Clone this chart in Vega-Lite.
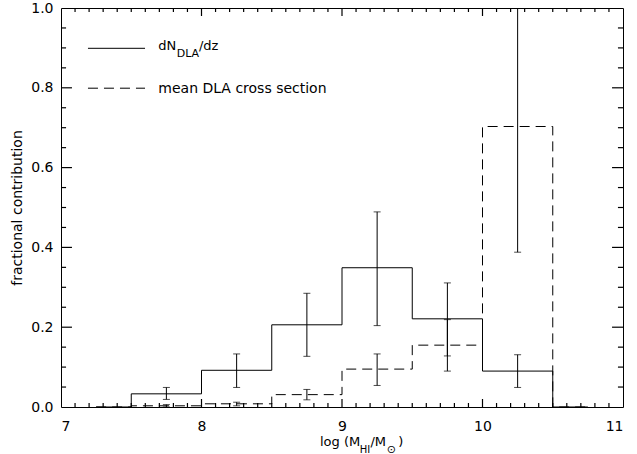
{
  "$schema": "https://vega.github.io/schema/vega-lite/v6.json",
  "width": 562,
  "height": 399,
  "autosize": {"type": "none"},
  "padding": {"left": 61, "top": 8, "right": 14, "bottom": 47},
  "background": "white",
  "config": {
    "view": {"stroke": "black", "strokeWidth": 1},
    "axis": {
      "domain": false, "ticks": false, "tickSize": 0, "grid": false,
      "labelColor": "black", "labelFont": "DejaVu Sans", "labelFontSize": 14,
      "titleFont": "DejaVu Sans", "titleFontWeight": "normal", "titleColor": "black", "titleFontSize": 14
    },
    "text": {"font": "DejaVu Sans", "color": "black"}
  },
  "datasets": {
    "xmajor": [{"v": 8}, {"v": 9}, {"v": 10}],
    "xminor": [{"v": 7.1},{"v": 7.2},{"v": 7.3},{"v": 7.4},{"v": 7.5},{"v": 7.6},{"v": 7.7},{"v": 7.8},{"v": 7.9},{"v": 8.1},{"v": 8.2},{"v": 8.3},{"v": 8.4},{"v": 8.5},{"v": 8.6},{"v": 8.7},{"v": 8.8},{"v": 8.9},{"v": 9.1},{"v": 9.2},{"v": 9.3},{"v": 9.4},{"v": 9.5},{"v": 9.6},{"v": 9.7},{"v": 9.8},{"v": 9.9},{"v": 10.1},{"v": 10.2},{"v": 10.3},{"v": 10.4},{"v": 10.5},{"v": 10.6},{"v": 10.7},{"v": 10.8},{"v": 10.9}],
    "ymajor": [{"v": 0.2}, {"v": 0.4}, {"v": 0.6}, {"v": 0.8}],
    "yminor": [{"v": 0.05},{"v": 0.1},{"v": 0.15},{"v": 0.25},{"v": 0.3},{"v": 0.35},{"v": 0.45},{"v": 0.5},{"v": 0.55},{"v": 0.65},{"v": 0.7},{"v": 0.75},{"v": 0.85},{"v": 0.9},{"v": 0.95}],
    "hist": [
      {"series": "dNdz", "logM": 7.25, "frac": 0.0, "lo": null, "hi": null},
      {"series": "dNdz", "logM": 7.75, "frac": 0.033, "lo": 0.019, "hi": 0.049},
      {"series": "dNdz", "logM": 8.25, "frac": 0.092, "lo": 0.049, "hi": 0.133},
      {"series": "dNdz", "logM": 8.75, "frac": 0.206, "lo": 0.127, "hi": 0.285},
      {"series": "dNdz", "logM": 9.25, "frac": 0.349, "lo": 0.204, "hi": 0.489},
      {"series": "dNdz", "logM": 9.75, "frac": 0.221, "lo": 0.090, "hi": 0.311},
      {"series": "dNdz", "logM": 10.25, "frac": 0.090, "lo": 0.049, "hi": 0.131},
      {"series": "dNdz", "logM": 10.75, "frac": 0.0, "lo": null, "hi": null},
      {"series": "cross", "logM": 7.25, "frac": 0.0, "lo": null, "hi": null},
      {"series": "cross", "logM": 7.75, "frac": 0.003, "lo": 0.0, "hi": 0.006},
      {"series": "cross", "logM": 8.25, "frac": 0.008, "lo": 0.003, "hi": 0.012},
      {"series": "cross", "logM": 8.75, "frac": 0.031, "lo": 0.018, "hi": 0.044},
      {"series": "cross", "logM": 9.25, "frac": 0.095, "lo": 0.054, "hi": 0.133},
      {"series": "cross", "logM": 9.75, "frac": 0.155, "lo": 0.128, "hi": 0.219},
      {"series": "cross", "logM": 10.25, "frac": 0.703, "lo": 0.388, "hi": 1.05},
      {"series": "cross", "logM": 10.75, "frac": 0.0, "lo": null, "hi": null}
    ]
  },
  "data": {"name": "hist"},
  "layer": [
    {
      "transform": [{"filter": "datum.series == 'dNdz'"}],
      "mark": {"type": "line", "interpolate": "step", "color": "black", "strokeWidth": 1},
      "encoding": {
        "x": {"field": "logM", "type": "quantitative",
              "scale": {"domain": [7, 11], "nice": false, "zero": false},
              "axis": {"orient": "bottom", "values": [7, 8, 9, 10, 11], "format": "d", "labelPadding": 12, "title": null}},
        "y": {"field": "frac", "type": "quantitative",
              "scale": {"domain": [0, 1], "nice": false, "zero": false},
              "axis": {"orient": "left", "values": [0, 0.2, 0.4, 0.6, 0.8, 1.0], "format": ".1f", "labelPadding": 8, "title": "fractional contribution", "titlePadding": 6}}
      }
    },
    {
      "transform": [{"filter": "datum.series == 'cross'"}],
      "mark": {"type": "line", "interpolate": "step", "color": "black", "strokeWidth": 1, "strokeDash": [10, 6]},
      "encoding": {
        "x": {"field": "logM", "type": "quantitative", "axis": null},
        "y": {"field": "frac", "type": "quantitative", "axis": null}
      }
    },
    {
      "transform": [{"filter": "datum.lo != null"}],
      "mark": {"type": "rule", "color": "black", "strokeWidth": 1, "clip": true},
      "encoding": {
        "x": {"field": "logM", "type": "quantitative", "axis": null},
        "y": {"field": "lo", "type": "quantitative", "axis": null},
        "y2": {"field": "hi"}
      }
    },
    {
      "transform": [{"filter": "datum.lo != null"}],
      "mark": {"type": "tick", "orient": "horizontal", "color": "black", "size": 7, "thickness": 1, "clip": true},
      "encoding": {
        "x": {"field": "logM", "type": "quantitative", "axis": null},
        "y": {"field": "lo", "type": "quantitative", "axis": null}
      }
    },
    {
      "transform": [{"filter": "datum.lo != null"}],
      "mark": {"type": "tick", "orient": "horizontal", "color": "black", "size": 7, "thickness": 1, "clip": true},
      "encoding": {
        "x": {"field": "logM", "type": "quantitative", "axis": null},
        "y": {"field": "hi", "type": "quantitative", "axis": null}
      }
    },
    {
      "data": {"name": "xmajor"},
      "mark": {"type": "rule", "color": "black", "strokeWidth": 1.2},
      "encoding": {"x": {"field": "v", "type": "quantitative", "axis": null}, "y": {"datum": 0, "type": "quantitative", "axis": null}, "y2": {"datum": 0.02}}
    },
    {
      "data": {"name": "xmajor"},
      "mark": {"type": "rule", "color": "black", "strokeWidth": 1.2},
      "encoding": {"x": {"field": "v", "type": "quantitative", "axis": null}, "y": {"datum": 1, "type": "quantitative", "axis": null}, "y2": {"datum": 0.98}}
    },
    {
      "data": {"name": "xminor"},
      "mark": {"type": "rule", "color": "black", "strokeWidth": 1.2},
      "encoding": {"x": {"field": "v", "type": "quantitative", "axis": null}, "y": {"datum": 0, "type": "quantitative", "axis": null}, "y2": {"datum": 0.01}}
    },
    {
      "data": {"name": "xminor"},
      "mark": {"type": "rule", "color": "black", "strokeWidth": 1.2},
      "encoding": {"x": {"field": "v", "type": "quantitative", "axis": null}, "y": {"datum": 1, "type": "quantitative", "axis": null}, "y2": {"datum": 0.99}}
    },
    {
      "data": {"name": "ymajor"},
      "mark": {"type": "rule", "color": "black", "strokeWidth": 1.2},
      "encoding": {"y": {"field": "v", "type": "quantitative", "axis": null}, "x": {"datum": 7, "type": "quantitative", "axis": null}, "x2": {"datum": 7.078}}
    },
    {
      "data": {"name": "ymajor"},
      "mark": {"type": "rule", "color": "black", "strokeWidth": 1.2},
      "encoding": {"y": {"field": "v", "type": "quantitative", "axis": null}, "x": {"datum": 11, "type": "quantitative", "axis": null}, "x2": {"datum": 10.922}}
    },
    {
      "data": {"name": "yminor"},
      "mark": {"type": "rule", "color": "black", "strokeWidth": 1.2},
      "encoding": {"y": {"field": "v", "type": "quantitative", "axis": null}, "x": {"datum": 7, "type": "quantitative", "axis": null}, "x2": {"datum": 7.036}}
    },
    {
      "data": {"name": "yminor"},
      "mark": {"type": "rule", "color": "black", "strokeWidth": 1.2},
      "encoding": {"y": {"field": "v", "type": "quantitative", "axis": null}, "x": {"datum": 11, "type": "quantitative", "axis": null}, "x2": {"datum": 10.964}}
    },
    {
      "data": {"values": [{}]},
      "mark": {"type": "rule", "color": "black", "strokeWidth": 1},
      "encoding": {
        "x": {"datum": 7.192, "type": "quantitative", "axis": null},
        "x2": {"datum": 7.598},
        "y": {"datum": 0.899, "type": "quantitative", "axis": null}
      }
    },
    {
      "data": {"values": [{}]},
      "mark": {"type": "rule", "color": "black", "strokeWidth": 1, "strokeDash": [10, 6]},
      "encoding": {
        "x": {"datum": 7.192, "type": "quantitative", "axis": null},
        "x2": {"datum": 7.598},
        "y": {"datum": 0.799, "type": "quantitative", "axis": null}
      }
    },
    {
      "data": {"values": [{}]},
      "mark": {"type": "text", "text": "dN", "align": "left", "baseline": "alphabetic", "fontSize": 13},
      "encoding": {
        "x": {"datum": 7.6925, "type": "quantitative", "axis": null},
        "y": {"datum": 0.8947, "type": "quantitative", "axis": null}
      }
    },
    {
      "data": {"values": [{}]},
      "mark": {"type": "text", "text": "DLA", "align": "left", "baseline": "alphabetic", "fontSize": 11},
      "encoding": {
        "x": {"datum": 7.8235, "type": "quantitative", "axis": null},
        "y": {"datum": 0.878, "type": "quantitative", "axis": null}
      }
    },
    {
      "data": {"values": [{}]},
      "mark": {"type": "text", "text": "/dz", "align": "left", "baseline": "alphabetic", "fontSize": 13},
      "encoding": {
        "x": {"datum": 7.982, "type": "quantitative", "axis": null},
        "y": {"datum": 0.8947, "type": "quantitative", "axis": null}
      }
    },
    {
      "data": {"values": [{}]},
      "mark": {"type": "text", "text": "mean DLA cross section", "align": "left", "baseline": "alphabetic", "fontSize": 14},
      "encoding": {
        "x": {"datum": 7.6925, "type": "quantitative", "axis": null},
        "y": {"datum": 0.786, "type": "quantitative", "axis": null}
      }
    },
    {
      "data": {"values": [{}]},
      "mark": {"type": "text", "text": "log (M", "align": "left", "baseline": "alphabetic", "fontSize": 13},
      "encoding": {
        "x": {"datum": 8.8434, "type": "quantitative", "axis": null},
        "y": {"datum": -0.0977, "type": "quantitative", "axis": null}
      }
    },
    {
      "data": {"values": [{}]},
      "mark": {"type": "text", "text": "HI", "align": "left", "baseline": "alphabetic", "fontSize": 10},
      "encoding": {
        "x": {"datum": 9.126, "type": "quantitative", "axis": null},
        "y": {"datum": -0.1153, "type": "quantitative", "axis": null}
      }
    },
    {
      "data": {"values": [{}]},
      "mark": {"type": "text", "text": "/M", "align": "left", "baseline": "alphabetic", "fontSize": 13},
      "encoding": {
        "x": {"datum": 9.202, "type": "quantitative", "axis": null},
        "y": {"datum": -0.0977, "type": "quantitative", "axis": null}
      }
    },
    {
      "data": {"values": [{}]},
      "mark": {"type": "text", "text": "⊙", "align": "left", "baseline": "alphabetic", "fontSize": 11},
      "encoding": {
        "x": {"datum": 9.318, "type": "quantitative", "axis": null},
        "y": {"datum": -0.1153, "type": "quantitative", "axis": null}
      }
    },
    {
      "data": {"values": [{}]},
      "mark": {"type": "text", "text": ")", "align": "left", "baseline": "alphabetic", "fontSize": 13},
      "encoding": {
        "x": {"datum": 9.4, "type": "quantitative", "axis": null},
        "y": {"datum": -0.0977, "type": "quantitative", "axis": null}
      }
    }
  ],
  "resolve": {"axis": {"x": "independent", "y": "independent"}}
}
